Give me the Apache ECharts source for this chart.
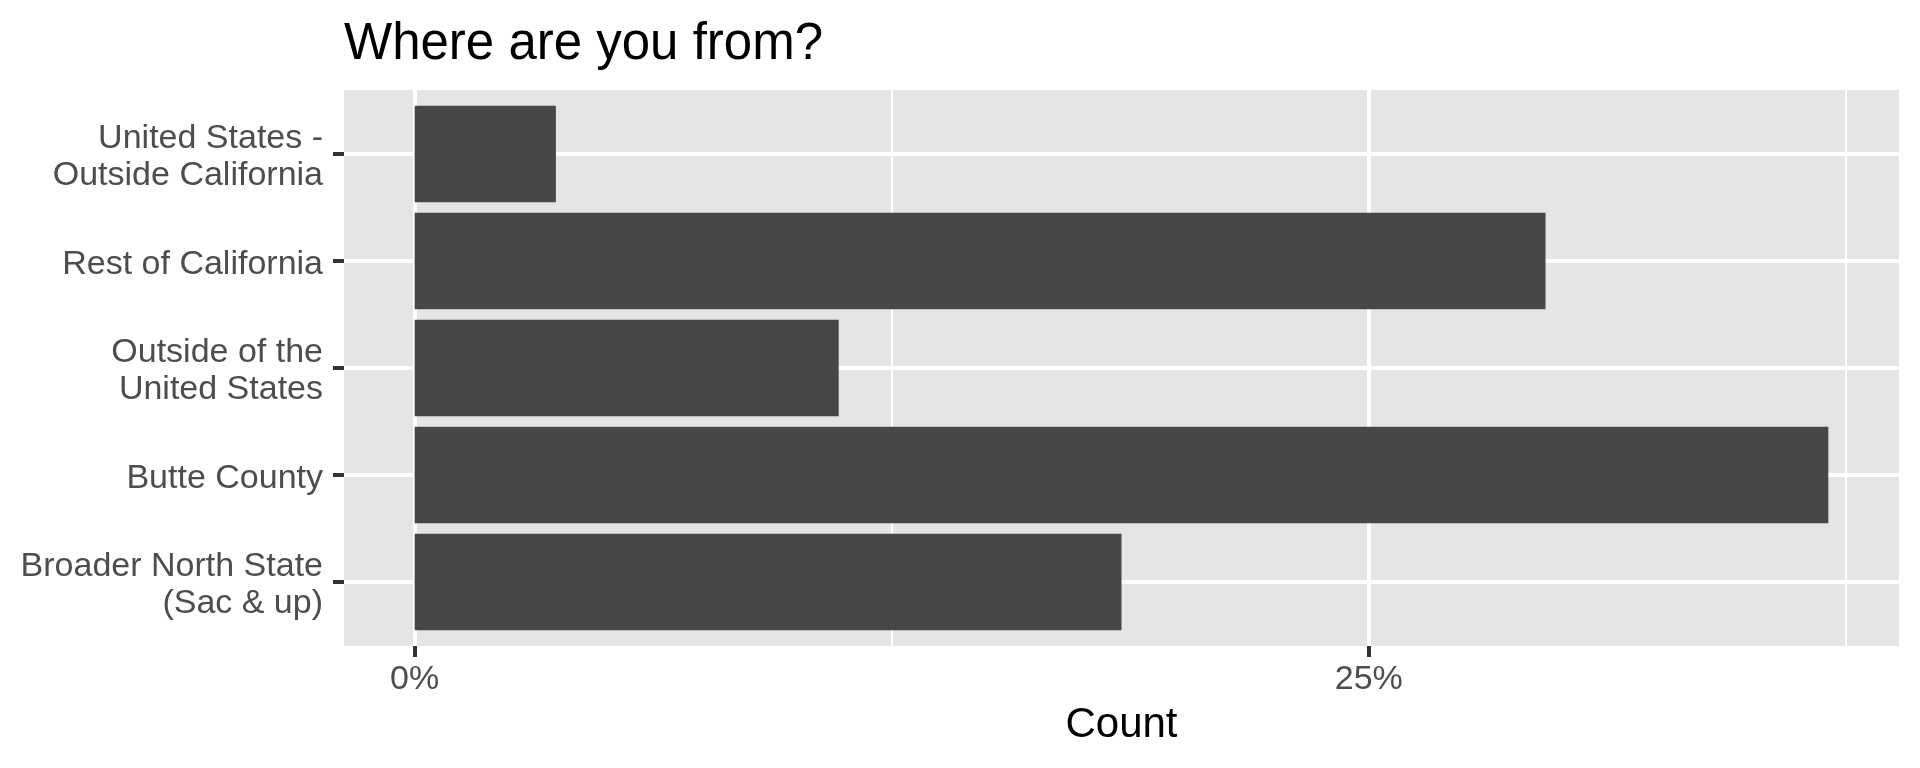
<!DOCTYPE html>
<html>
<head>
<meta charset="utf-8">
<script src="https://cdn.jsdelivr.net/npm/echarts@6/dist/echarts.min.js"></script>
<style>
html, body { margin: 0; padding: 0; background: #fff; }
#chart { width: 1920px; height: 768px; }
</style>
</head>
<body>
<div id="chart"></div>
<script>
// data (share of answers, %)
var categories = ['United States -\nOutside California', 'Rest of California', 'Outside of the\nUnited States', 'Butte County', 'Broader North State\n(Sac & up)'];
var shares = [3.70, 29.63, 11.11, 37.04, 18.52];
var tickValues = [0, 25];
var majorBreaks = [0, 25];
var minorBreaks = [12.5, 37.5];

var font = "'Liberation Sans', Arial, sans-serif";
var maxShare = Math.max.apply(null, shares);
var xMin = -0.05 * maxShare;
var xMax = maxShare * 1.05;

var gridLines = [];
majorBreaks.forEach(function (v) {
	gridLines.push({ xAxis: v, lineStyle: { color: '#fff', width: 4, type: 'solid' } });
});
minorBreaks.forEach(function (v) {
	gridLines.push({ xAxis: v, lineStyle: { color: '#fff', width: 2, type: 'solid' } });
});

var chart = echarts.init(document.getElementById('chart'));
var option = {
	animation: false,
	textStyle: { fontFamily: font },
	title: {
		text: 'Where are you from?',
		left: 339,
		top: 14,
		textStyle: { fontFamily: font, fontSize: 51, fontWeight: 'normal', color: '#000' }
	},
	grid: [{
		// panel
		left: 344, top: 90, width: 1555, height: 556,
		show: true, backgroundColor: '#E5E5E5', borderWidth: 0, z: -1
	}, {
		// from first to last category centre
		left: 344, top: 154, width: 1555, height: 428
	}, {
		// labels only, nudged down a little
		left: 344, top: 157.5, width: 1555, height: 428
	}],
	xAxis: [{
		gridIndex: 0,
		type: 'value',
		min: xMin,
		max: xMax,
		splitLine: { show: false },
		axisLine: { show: false, onZero: false },
		axisTick: {
			show: true, customValues: tickValues, length: 11,
			lineStyle: { color: '#333', width: 4 }
		},
		axisLabel: {
			customValues: tickValues,
			formatter: '{value}%',
			color: '#4D4D4D',
			fontSize: 34,
			fontFamily: font,
			margin: 17
		},
		name: 'Count',
		nameLocation: 'middle',
		nameGap: 58,
		nameTextStyle: { fontSize: 42, color: '#000', fontFamily: font }
	}, {
		gridIndex: 1,
		type: 'value',
		min: xMin,
		max: xMax,
		show: false
	}, {
		gridIndex: 2,
		type: 'value',
		min: xMin,
		max: xMax,
		show: false
	}],
	yAxis: [{
		gridIndex: 0,
		type: 'value',
		min: 0,
		max: 1,
		show: false
	}, {
		gridIndex: 1,
		type: 'category',
		inverse: true,
		boundaryGap: false,
		data: categories,
		z: 1,
		axisLine: { show: false, onZero: false },
		axisTick: { show: true, length: 11, lineStyle: { color: '#333', width: 4 } },
		splitLine: { show: true, lineStyle: { color: '#fff', width: 4 } },
		axisLabel: { show: false }
	}, {
		gridIndex: 2,
		type: 'category',
		inverse: true,
		boundaryGap: false,
		data: categories,
		axisLine: { show: false, onZero: false },
		axisTick: { show: false },
		splitLine: { show: false },
		axisLabel: {
			color: '#4D4D4D',
			fontSize: 34,
			lineHeight: 37,
			fontFamily: font,
			margin: 21,
			align: 'right'
		}
	}],
	series: [{
		type: 'scatter',
		xAxisIndex: 0,
		yAxisIndex: 0,
		data: [],
		z: 1,
		silent: true,
		markLine: {
			silent: true,
			z: 1,
			symbol: 'none',
			animation: false,
			label: { show: false },
			data: gridLines
		}
	}, {
		type: 'bar',
		xAxisIndex: 1,
		yAxisIndex: 1,
		barWidth: '90%',
		clip: false,
		z: 10,
		itemStyle: { color: '#474747' },
		data: shares
	}]
};
chart.setOption(option);
</script>
</body>
</html>
